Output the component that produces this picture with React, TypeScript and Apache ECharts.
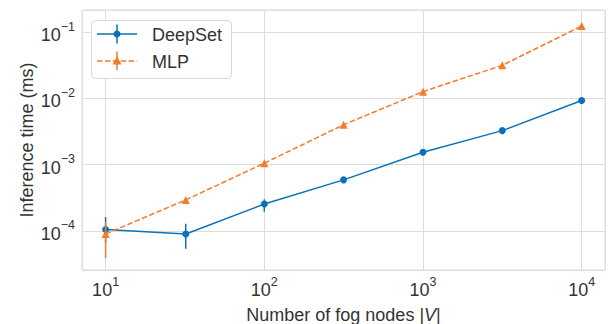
import React, { useEffect, useRef } from "react";
import * as echarts from "echarts";

const nodes = [10, 32, 100, 316, 1000, 3162, 10000];
const deepSetTime = [1.05e-4, 9.0e-5, 2.55e-4, 5.9e-4, 1.54e-3, 3.26e-3, 9.3e-3];
const deepSetLow = [6.5e-5, 5.4e-5, 1.95e-4, 5.4e-4, 1.46e-3, 3.12e-3, 8.9e-3];
const deepSetHigh = [1.62e-4, 1.28e-4, 3.0e-4, 6.4e-4, 1.62e-3, 3.4e-3, 9.7e-3];
const mlpTime = [9.0e-5, 2.94e-4, 1.05e-3, 4.0e-3, 1.26e-2, 3.15e-2, 0.123];
const mlpLow = [3.9e-5, 2.84e-4, 1.02e-3, 3.9e-3, 1.23e-2, 3.08e-2, 0.12];
const mlpHigh = [1.38e-4, 3.05e-4, 1.08e-3, 4.1e-3, 1.29e-2, 3.22e-2, 0.126];

const BLUE = "#0b72b8";
const ORANGE = "#f47a2c";
const FONT = "'Liberation Sans', Arial, sans-serif";
const TEXT = "#333333";
const GRID = "#dddddd";
const FS = 18;

function supFormatter(v: number) {
  const e = Math.round(Math.log10(v));
  const s = e < 0 ? "\u2212" + -e : String(e);
  return "{b|10}{sup|" + s + "}";
}

const richTick = {
  b: { fontSize: FS, fontFamily: FONT, color: TEXT, lineHeight: 24, verticalAlign: "bottom" },
  sup: { fontSize: 12.5, fontFamily: FONT, color: TEXT, lineHeight: 24, verticalAlign: "top" },
};

function errorSeries(name: string, low: number[], high: number[], color: string, z: number) {
  return {
    type: "custom",
    name,
    z,
    data: nodes.map((x, i) => [x, low[i], high[i]]),
    encode: { x: 0, y: [1, 2] },
    renderItem: (params: any, api: any) => {
      const x = api.value(0);
      const p1 = api.coord([x, api.value(1)]);
      const p2 = api.coord([x, api.value(2)]);
      return {
        type: "line",
        shape: { x1: p1[0], y1: p1[1], x2: p2[0], y2: p2[1] },
        style: { stroke: color, lineWidth: 1.5 },
      };
    },
    silent: true,
  };
}

export default function App() {
  const ref = useRef<HTMLDivElement>(null);
  useEffect(() => {
    if (!ref.current) return;
    const chart = echarts.init(ref.current, null, { renderer: "svg" });
    const legendTri = (cx: number, cy: number) => [
      [cx, cy - 4.5],
      [cx + 4.5, cy + 3.5],
      [cx - 4.5, cy + 3.5],
    ];
    chart.setOption({
      animation: false,
      backgroundColor: "#ffffff",
      grid: {
        left: 82,
        right: 7,
        top: 10,
        bottom: 54,
        show: true,
        borderColor: GRID,
        borderWidth: 1,
        backgroundColor: "transparent",
        containLabel: false,
        outerBoundsMode: "none",
      },
      xAxis: {
        type: "log",
        logBase: 10,
        min: 7.1,
        max: 14030,
        name: "Number of fog nodes |{i|V}|",
        nameLocation: "middle",
        nameGap: 36,
        nameTextStyle: {
          fontSize: FS,
          fontFamily: FONT,
          color: TEXT,
          rich: { i: { fontSize: FS, fontFamily: FONT, color: TEXT, fontStyle: "italic" } },
        },
        axisLine: { show: false },
        axisTick: { show: false },
        axisLabel: {
          margin: 5,
          showMinLabel: false,
          showMaxLabel: false,
          formatter: supFormatter,
          rich: richTick,
        },
        splitLine: { show: true, lineStyle: { color: GRID, width: 1 } },
      },
      yAxis: {
        type: "log",
        logBase: 10,
        min: 2.58e-5,
        max: 0.2148,
        name: "Inference time (ms)",
        nameLocation: "middle",
        nameGap: 46,
        nameMoveOverlap: false,
        nameTextStyle: { fontSize: FS, fontFamily: FONT, color: TEXT },
        axisLine: { show: false },
        axisTick: { show: false },
        axisLabel: {
          margin: 7,
          showMinLabel: false,
          showMaxLabel: false,
          formatter: supFormatter,
          rich: richTick,
        },
        splitLine: { show: true, lineStyle: { color: GRID, width: 1 } },
      },
      series: [
        errorSeries("DeepSet err", deepSetLow, deepSetHigh, BLUE, 2),
        {
          type: "line",
          name: "DeepSet",
          z: 3,
          data: nodes.map((x, i) => [x, deepSetTime[i]]),
          symbol: "circle",
          symbolSize: 7,
          itemStyle: { color: BLUE },
          lineStyle: { color: BLUE, width: 1.5 },
        },
        errorSeries("MLP err", mlpLow, mlpHigh, ORANGE, 4),
        {
          type: "line",
          name: "MLP",
          z: 5,
          data: nodes.map((x, i) => [x, mlpTime[i]]),
          symbol: "triangle",
          symbolSize: 8,
          itemStyle: { color: ORANGE },
          lineStyle: { color: ORANGE, width: 1.5, type: [5.5, 2.4] },
        },
      ],
      graphic: [
        {
          type: "rect",
          z: 100,
          shape: { x: 91.5, y: 20.5, width: 140, height: 58, r: 4 },
          style: { fill: "#ffffff", stroke: "#d8d8d8", lineWidth: 1 },
        },
        { type: "line", z: 101, shape: { x1: 97, y1: 34, x2: 137, y2: 34 }, style: { stroke: BLUE, lineWidth: 1.5 } },
        { type: "line", z: 101, shape: { x1: 117, y1: 24.5, x2: 117, y2: 43.5 }, style: { stroke: BLUE, lineWidth: 1.5 } },
        { type: "circle", z: 102, shape: { cx: 117, cy: 34, r: 3.5 }, style: { fill: BLUE } },
        {
          type: "line",
          z: 101,
          shape: { x1: 97, y1: 61, x2: 137, y2: 61 },
          style: { stroke: ORANGE, lineWidth: 1.5, lineDash: [5.5, 2.4] },
        },
        { type: "line", z: 101, shape: { x1: 117, y1: 51.5, x2: 117, y2: 70 }, style: { stroke: ORANGE, lineWidth: 1.5 } },
        { type: "polygon", z: 102, shape: { points: legendTri(117, 61) }, style: { fill: ORANGE } },
        {
          type: "text",
          z: 102,
          x: 152,
          y: 34.5,
          style: { text: "DeepSet", fontSize: FS, fontFamily: FONT, fill: TEXT, verticalAlign: "middle" },
        },
        {
          type: "text",
          z: 102,
          x: 152,
          y: 61.5,
          style: { text: "MLP", fontSize: FS, fontFamily: FONT, fill: TEXT, verticalAlign: "middle" },
        },
      ],
    });
    return () => chart.dispose();
  }, []);
  return <div ref={ref} style={{ position: "fixed", left: 0, top: 0, width: 612, height: 324 }} />;
}
